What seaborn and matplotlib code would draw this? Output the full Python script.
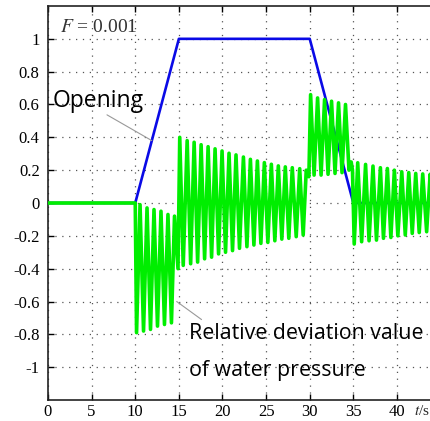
import matplotlib
matplotlib.use("Agg")
import matplotlib.pyplot as plt
import seaborn as sns
import pandas as pd

# ---- data ----
opening_t = [0, 10, 15, 30, 35, 45]
opening_v = [0, 0, 1, 1, 0, 0]

# extrema of the water-pressure deviation signal (time, value)
seg0_t = [0, 10]
seg0_v = [0, 0]
seg1_t = [10.15, 10.55, 10.95, 11.35, 11.75, 12.15, 12.55, 12.95, 13.35, 13.75, 14.15, 14.5, 14.9]
seg1_v = [-0.79, -0.01, -0.78, -0.03, -0.77, -0.04, -0.75, -0.05, -0.74, -0.07, -0.73, -0.08, -0.40]
seg2_t = [15.1, 15.5, 15.95, 16.35, 16.75, 17.15, 17.55, 17.95, 18.35, 18.75, 19.15, 19.55,
          19.95, 20.35, 20.75, 21.15, 21.55, 21.95, 22.4, 22.8, 23.2, 23.6, 24.0, 24.4,
          24.8, 25.2, 25.6, 26.0, 26.4, 26.8, 27.2, 27.6, 28.0, 28.45, 28.85, 29.25, 29.6, 29.9]
seg2_v = [0.40, -0.38, 0.38, -0.37, 0.37, -0.36, 0.355, -0.34, 0.343, -0.33, 0.33, -0.31,
          0.317, -0.30, 0.303, -0.29, 0.293, -0.276, 0.28, -0.266, 0.266, -0.256, 0.256, -0.246,
          0.246, -0.24, 0.236, -0.23, 0.226, -0.22, 0.22, -0.215, 0.215, -0.205, 0.209, -0.195, 0.20, 0.16]
seg3_t = [30.1, 30.5, 30.9, 31.3, 31.7, 32.1, 32.5, 32.9, 33.3, 33.7, 34.1, 34.5, 34.75, 34.9]
seg3_v = [0.66, 0.17, 0.64, 0.17, 0.63, 0.175, 0.62, 0.18, 0.61, 0.185, 0.60, 0.20, 0.25, 0.20]
seg4_t = [35.1, 35.5, 35.95, 36.4, 36.8, 37.25, 37.65, 38.1, 38.45, 38.9, 39.3, 39.7, 40.1,
          40.55, 40.95, 41.35, 41.75, 42.15, 42.55, 42.95, 43.4, 43.8, 44.2]
seg4_v = [-0.25, 0.245, -0.236, 0.235, -0.23, 0.225, -0.226, 0.215, -0.215, 0.21, -0.21, 0.20, -0.20,
          0.19, -0.195, 0.185, -0.185, 0.18, -0.18, 0.177, -0.175, 0.175, -0.172]

y_ticks = [1, 0.8, 0.6, 0.4, 0.2, 0, -0.2, -0.4, -0.6, -0.8, -1]
y_labels = ["1", "0.8", "0.6", "0.4", "0.2", "0", "-0.2", "-0.4", "-0.6", "-0.8", "-1"]
x_ticks = [0, 5, 10, 15, 20, 25, 30, 35, 40]
x_labels = ["0", "5", "10", "15", "20", "25", "30", "35", "40"]

# ---- build frames ----
p_t = seg0_t + seg1_t + seg2_t + seg3_t + seg4_t
p_v = seg0_v + seg1_v + seg2_v + seg3_v + seg4_v
pressure = pd.DataFrame({"t": p_t, "v": p_v})
opening = pd.DataFrame({"t": opening_t, "v": opening_v})

sns.set_style("ticks")
plt.rcParams["font.family"] = ["Liberation Serif", "DejaVu Serif"]
plt.rcParams["mathtext.fontset"] = "stix"

fig = plt.figure(figsize=(4.30, 4.21), dpi=100)
ax = fig.add_axes([48 / 430, 21 / 421, 392.6 / 430, 394 / 421])

sns.lineplot(data=opening, x="t", y="v", ax=ax, color="#0a0ae6", lw=1.9,
             estimator=None, sort=False, zorder=3)
sns.lineplot(data=pressure, x="t", y="v", ax=ax, color="#00ee00", lw=2.6,
             estimator=None, sort=False, zorder=4,
             solid_joinstyle="round", solid_capstyle="round")

ax.set_xlim(0, 45)
ax.set_ylim(-1.2, 1.2)
ax.set_xticks(x_ticks)
ax.set_xticklabels(x_labels)
ax.set_yticks(y_ticks)
ax.set_yticklabels(y_labels)
ax.set_xlabel("")
ax.set_ylabel("")

ax.grid(True, color="#555555", linestyle=(0, (1, 4.5)), lw=0.9)
ax.tick_params(direction="in", top=True, right=False, length=4, width=1,
               labelsize=12, colors="black")
ax.tick_params(axis="x", pad=3)
ax.tick_params(axis="y", pad=6)
for s in ["left", "bottom", "top"]:
    ax.spines[s].set_color("#222222")
    ax.spines[s].set_linewidth(1.2)
ax.spines["right"].set_visible(False)

# texts
ax.text(1.4, 1.067, r"$F$ = 0.001", fontsize=14, ha="left", va="center", color="#333333")
ax.text(41.9, -1.225, r"$t$/s", fontsize=11, ha="left", va="top", clip_on=False)

sans = ["Open Sans", "DejaVu Sans"]
ax.text(0.55, 0.62, "Opening", family=sans, fontsize=16.5, ha="left", va="center", color="black")
ax.plot([6.76, 11.9], [0.537, 0.38], color="#999999", lw=0.8, zorder=5)

ax.text(16.2, -0.795, "Relative deviation value", family=sans, fontsize=15.4,
        ha="left", va="center", color="black", clip_on=False)
ax.text(16.2, -1.02, "of water pressure", family=sans, fontsize=15.4,
        ha="left", va="center", color="black")
ax.plot([14.75, 17.6], [-0.60, -0.71], color="#999999", lw=0.8, zorder=5)

fig.savefig("out.png", dpi=100)
